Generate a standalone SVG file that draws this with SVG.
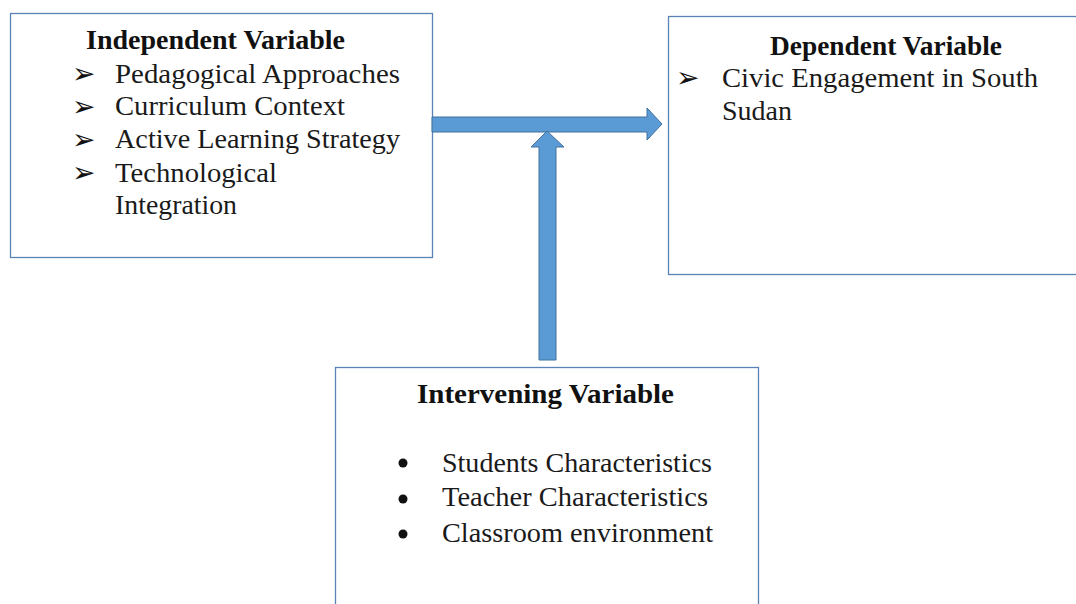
<svg xmlns="http://www.w3.org/2000/svg" width="1076" height="604" viewBox="0 0 1076 604">
  <style>
    .box { fill: #ffffff; stroke: #5a82b4; stroke-width: 1.3; }
    .title { font-family: "Liberation Serif", "Times New Roman", serif; font-size: 28px; font-weight: bold; fill: #111; }
    .item { font-family: "Liberation Serif", "Times New Roman", serif; font-size: 28px; fill: #1a1a1a; }
    .bul { font-family: "DejaVu Sans", sans-serif; font-size: 28px; font-weight: bold; fill: #111; }
    .arrow { fill: #5b9bd5; stroke: #41719c; stroke-width: 1; }
  </style>
  <rect width="1076" height="604" fill="#ffffff"/>
  <g id="independent">
    <rect class="box" x="10.5" y="13.5" width="422" height="244"/>
    <text class="title" x="86" y="49" textLength="259" lengthAdjust="spacingAndGlyphs">Independent Variable</text>
    <text class="bul" x="72" y="83">➢</text>
    <text class="item" x="115" y="83" textLength="285" lengthAdjust="spacingAndGlyphs">Pedagogical Approaches</text>
    <text class="bul" x="72" y="116">➢</text>
    <text class="item" x="115" y="115" textLength="230" lengthAdjust="spacingAndGlyphs">Curriculum  Context</text>
    <text class="bul" x="72" y="149">➢</text>
    <text class="item" x="115" y="148" textLength="285" lengthAdjust="spacingAndGlyphs">Active Learning Strategy</text>
    <text class="bul" x="72" y="182">➢</text>
    <text class="item" x="115" y="182" textLength="162" lengthAdjust="spacingAndGlyphs">Technological</text>
    <text class="item" x="115" y="214" textLength="122" lengthAdjust="spacingAndGlyphs">Integration</text>
  </g>
  <g id="dependent">
    <rect class="box" x="668.5" y="16.5" width="420" height="258"/>
    <text class="title" x="770" y="55" textLength="232" lengthAdjust="spacingAndGlyphs">Dependent Variable</text>
    <text class="bul" x="676" y="87">➢</text>
    <text class="item" x="722" y="87" textLength="316" lengthAdjust="spacingAndGlyphs">Civic Engagement in South</text>
    <text class="item" x="722" y="120" textLength="70" lengthAdjust="spacingAndGlyphs">Sudan</text>
  </g>
  <g id="intervening">
    <rect class="box" x="335.5" y="367.5" width="423" height="250"/>
    <text class="title" x="417" y="403" textLength="257" lengthAdjust="spacingAndGlyphs">Intervening Variable</text>
    <circle cx="403" cy="463" r="4.5" fill="#111"/>
    <text class="item" x="442" y="472" textLength="270" lengthAdjust="spacingAndGlyphs">Students Characteristics</text>
    <circle cx="403" cy="499" r="4.5" fill="#111"/>
    <text class="item" x="442" y="506" textLength="266" lengthAdjust="spacingAndGlyphs">Teacher Characteristics</text>
    <circle cx="403" cy="534" r="4.5" fill="#111"/>
    <text class="item" x="442" y="542" textLength="271" lengthAdjust="spacingAndGlyphs">Classroom environment</text>
  </g>
  <g id="connectors">
    <path class="arrow" d="M432,117 L647,117 L647,108 L662,124 L647,140 L647,132 L432,132 Z"/>
    <path class="arrow" d="M539,360 L539,147 L531,147 L547,131 L564,147 L556,147 L556,360 Z"/>
  </g>
</svg>
